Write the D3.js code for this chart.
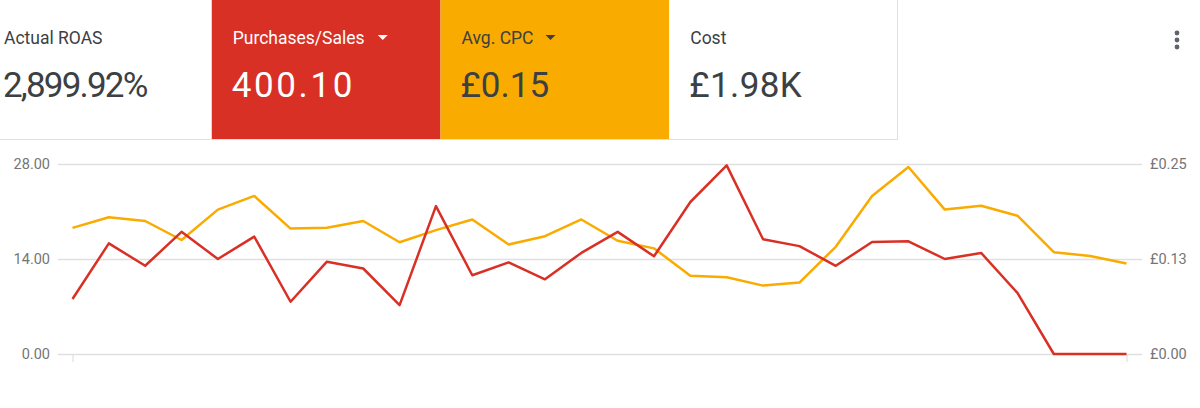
<!DOCTYPE html>
<html>
<head>
<meta charset="utf-8">
<script src="https://cdn.jsdelivr.net/npm/d3@7"></script>
<style>
  body { margin: 0; background: #fff; font-family: Roboto, "Noto Sans", sans-serif; }
  svg { display: block; }
</style>
</head>
<body>
<svg id="chart" width="1200" height="408"></svg>
<script>
// scorecards
var cardLabels = ["Actual ROAS", "Purchases/Sales", "Avg. CPC", "Cost"];
var cardValues = ["2,899.92%", "400.10", "£0.15", "£1.98K"];
var cardDropdown = [false, true, true, false];

// one point per day, 30 days
var days = d3.range(1, 31);
var purchases = [8.1, 16.3, 13.0, 18.0, 14.0, 17.3, 7.7, 13.6, 12.6, 7.2,
                 21.8, 11.6, 13.5, 11.0, 14.9, 18.0, 14.4, 22.4, 27.8, 16.9,
                 15.9, 13.0, 16.5, 16.6, 14.0, 14.9, 9.0, 0, 0, 0];
var avgCpc = [0.166, 0.180, 0.175, 0.150, 0.190, 0.208, 0.165, 0.166, 0.175, 0.147,
              0.163, 0.177, 0.144, 0.155, 0.177, 0.149, 0.139, 0.103, 0.101, 0.090,
              0.094, 0.141, 0.208, 0.246, 0.190, 0.195, 0.182, 0.134, 0.129, 0.119];
var leftTicks = [0, 14, 28];
var rightTicks = [0, 0.125, 0.25];

var svg = d3.select("#chart");

// ---- scorecards ----
var cardX = d3.scaleBand().domain(d3.range(cardLabels.length)).range([-17, 898]);
var cardFill = ["#fff", "#d93025", "#f9ab00", "#fff"];
var cardText = ["#3c4043", "#fff", "#3c4043", "#3c4043"];
// the original font is a bit different, nudge widths
var valueSpacing = [-1.8, 2.6, 0, 0.4];

var cards = svg.append("g").selectAll("g").data(cardLabels).enter().append("g")
  .attr("transform", function(d, i) { return "translate(" + cardX(i) + ",0)"; });

cards.append("rect")
  .attr("width", cardX.bandwidth())
  .attr("height", 139)
  .attr("fill", function(d, i) { return cardFill[i]; });

cards.append("text")
  .attr("x", 21).attr("y", 44)
  .attr("fill", function(d, i) { return cardText[i]; })
  .style("font-size", "17.5px")
  .text(function(d) { return d; });

cards.filter(function(d, i) { return cardDropdown[i]; }).append("path")
  .attr("fill", function(d) { return cardText[cardLabels.indexOf(d)]; })
  .attr("d", function(d) {
    // little triangle after label
    var w = d === "Avg. CPC" ? 84 : 145;
    return "M" + (21 + w) + ",35l10,0l-5,5z";
  });

cards.append("text")
  .attr("x", 20).attr("y", 97)
  .attr("fill", function(d, i) { return cardText[i]; })
  .style("font-size", "35px")
  .style("letter-spacing", function(d, i) { return valueSpacing[i] + "px"; })
  .text(function(d, i) { return cardValues[i]; });

// card borders
svg.append("line").attr("x1", 0).attr("x2", 898).attr("y1", 139.5).attr("y2", 139.5)
  .attr("stroke", "#e0e0e0");
svg.append("line").attr("x1", 897.5).attr("x2", 897.5).attr("y1", 0).attr("y2", 140)
  .attr("stroke", "#e0e0e0");

// more menu
svg.append("g").selectAll("circle").data([33, 40, 47]).enter().append("circle")
  .attr("cx", 1177).attr("cy", function(d) { return d; }).attr("r", 2.4)
  .attr("fill", "#5f6368");

// ---- chart ----
var gridLeft = 58, gridRight = 1142;
var x = d3.scalePoint().domain(days).range([72.5, 1126.5]);
var yL = d3.scaleLinear().domain([0, 28]).range([354, 164]);
var yR = d3.scaleLinear().domain([0, 0.25]).range([354, 164]);

var leftAxis = d3.axisLeft(yL).tickValues(leftTicks).tickFormat(d3.format(".2f"))
  .tickSize(-(gridRight - gridLeft)).tickPadding(8);
var gl = svg.append("g").attr("transform", "translate(" + gridLeft + ",0)").call(leftAxis);
gl.select(".domain").remove();
gl.selectAll("line").attr("stroke", "#e0e0e0").attr("stroke-width", 1.5);

var rightAxis = d3.axisRight(yR).tickValues(rightTicks)
  .tickFormat(function(d) { return "£" + d3.format(".2f")(d); })
  .tickSize(0).tickPadding(8);
var gr = svg.append("g").attr("transform", "translate(" + gridRight + ",0)").call(rightAxis);
gr.select(".domain").remove();

svg.selectAll(".tick text")
  .attr("fill", "#757575")
  .style("font-family", "Roboto, sans-serif")
  .style("font-size", "14.5px");

var bottomAxis = d3.axisBottom(x).tickValues([days[0], days[days.length - 1]])
  .tickSize(8).tickFormat("");
var gb = svg.append("g").attr("transform", "translate(0,354)").call(bottomAxis);
gb.select(".domain").remove();
gb.selectAll("line").attr("stroke", "#dadce0");

var lineL = d3.line().x(function(d, i) { return x(days[i]); }).y(function(d) { return yL(d); });
var lineR = d3.line().x(function(d, i) { return x(days[i]); }).y(function(d) { return yR(d); });

svg.append("path")
  .attr("d", lineR(avgCpc))
  .attr("fill", "none")
  .attr("stroke", "#f9ab00")
  .attr("stroke-width", 2.5)
  .attr("stroke-linejoin", "round");

svg.append("path")
  .attr("d", lineL(purchases))
  .attr("fill", "none")
  .attr("stroke", "#d93025")
  .attr("stroke-width", 2.5)
  .attr("stroke-linejoin", "round");
</script>
</body>
</html>
